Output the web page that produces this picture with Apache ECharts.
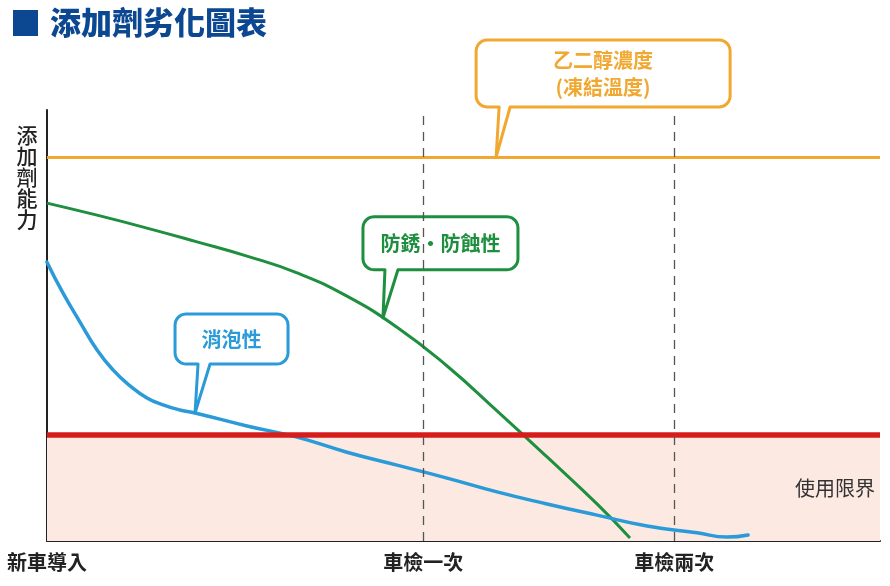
<!DOCTYPE html>
<html>
<head>
<meta charset="utf-8">
<script src="https://cdn.jsdelivr.net/npm/echarts@6/dist/echarts.min.js"></script>
<style>
	html, body { margin: 0; padding: 0; background: #fff; }
	#chart { width: 890px; height: 586px; }
</style>
</head>
<body>
<div id="chart"></div>
<script>
	/* 添加劑劣化 數據 (x: 年, y: 能力 %) */
	var xMax = 6.64;
	var yMax = 100;
	var xTickValues = [0, 3, 5];
	var xTickLabels = ['新車導入', '車檢一次', '車檢兩次'];
	var inspectionYears = [3, 5];
	var glycolLevel = 89.1;
	var usageLimit = 24.6;

	var rustData = [
		[0, 78.4], [0.399, 75.6], [0.797, 72.6], [1.196, 69.4], [1.594, 66.1],
		[1.993, 62.2], [2.391, 56.8], [2.790, 49.6], [3.189, 40.6], [3.587, 30.2],
		[3.986, 19.5], [4.384, 8.6], [4.647, 0.7]
	];
	var foamData = [
		[0, 64.7], [0.128, 57.5], [0.263, 50.8], [0.399, 44.3], [0.526, 39.7],
		[0.662, 36.0], [0.797, 33.2], [0.925, 31.6], [1.060, 30.4], [1.196, 29.6],
		[1.594, 26.7], [1.993, 24.1], [2.391, 20.6], [2.790, 17.6], [3.189, 14.6],
		[3.587, 11.4], [3.986, 8.6], [4.384, 6.0], [4.783, 3.5], [5.181, 1.9],
		[5.420, 0.9], [5.588, 1.4]
	];

	// 吹き出しの指す点
	var glycolCalloutAt = [3.58, glycolLevel];
	var rustCalloutAt = [2.678, 51.8];
	var foamCalloutAt = [1.18, 29.7];

	var font = '"Noto Sans CJK TC", "Noto Sans CJK SC", sans-serif';
	var orange = '#f0a830';
	var green = '#1e8f3e';
	var blue = '#2a9ad8';
	var red = '#d71c1c';

	var option = {
		backgroundColor: '#fff',
		animation: false,
		title: {
			text: '添加劑劣化圖表',
			left: 45,
			top: 2,
			textStyle: { fontFamily: font, fontSize: 31, fontWeight: 900, color: '#0c4792' }
		},
		grid: { left: 47, right: 10, top: 110, bottom: 45 },
		xAxis: {
			type: 'value',
			min: 0,
			max: xMax,
			axisLine: { show: true, onZero: false, lineStyle: { color: '#222', width: 2 } },
			axisTick: { show: false },
			splitLine: { show: false },
			axisLabel: {
				customValues: xTickValues,
				margin: 11,
				fontFamily: font,
				fontSize: 20,
				fontWeight: 'bold',
				color: '#222',
				formatter: function(v) {
					var i = xTickValues.indexOf(v);
					return i >= 0 ? xTickLabels[i] : '';
				}
			}
		},
		yAxis: {
			type: 'value',
			min: 0,
			max: yMax,
			axisLine: { show: true, lineStyle: { color: '#222', width: 2 } },
			axisTick: { show: false },
			axisLabel: { show: false },
			splitLine: { show: false }
		},
		series: [{
			name: '乙二醇濃度',
			type: 'line',
			z: 1,
			data: [],
			markArea: {
				silent: true,
				itemStyle: { color: '#fce9e2' },
				label: {
					show: true,
					position: 'insideRight',
					distance: 5,
					fontFamily: font,
					fontSize: 20,
					color: '#333'
				},
				data: [[{ name: '使用限界', yAxis: 0 }, { yAxis: usageLimit }]]
			},
			markLine: {
				silent: true,
				symbol: 'none',
				label: { show: false },
				data: [
					{ yAxis: glycolLevel, lineStyle: { color: orange, width: 3, type: 'solid' } },
					{ yAxis: usageLimit, lineStyle: { color: red, width: 5.5, type: 'solid' } }
				].concat(inspectionYears.map(function(x) {
					return { xAxis: x, lineStyle: { color: '#555', width: 1.3, type: [9, 7] } };
				}))
			}
		}, {
			name: '防銹・防蝕性',
			type: 'line',
			z: 3,
			smooth: 0.5,
			symbol: 'none',
			lineStyle: { color: green, width: 3 },
			data: rustData
		}, {
			name: '消泡性',
			type: 'line',
			z: 4,
			smooth: 0.5,
			symbol: 'none',
			lineStyle: { color: blue, width: 3.5, cap: 'round' },
			data: foamData
		}]
	};

	var chart = echarts.init(document.getElementById('chart'));
	chart.setOption(option);

	// 角の丸め用の点
	function corner(pts, cx, cy, r, a0) {
		for (var k = 0; k <= 6; k++) {
			var a = (a0 + k * 15) * Math.PI / 180;
			pts.push([cx + r * Math.cos(a), cy + r * Math.sin(a)]);
		}
	}

	// 吹き出し: box/tail は tip からのずれ
	function callout(tip, box, tail, color, text, lineHeight) {
		var x0 = tip[0] + box[0], x1 = tip[0] + box[1];
		var y0 = tip[1] + box[2], y1 = tip[1] + box[3];
		var r = 11;
		var pts = [];
		corner(pts, x0 + r, y0 + r, r, 180);
		corner(pts, x1 - r, y0 + r, r, 270);
		corner(pts, x1 - r, y1 - r, r, 0);
		pts.push([tip[0] + tail[1], y1], [tip[0], tip[1]], [tip[0] + tail[0], y1]);
		corner(pts, x0 + r, y1 - r, r, 90);
		return {
			type: 'group',
			z: 100,
			children: [{
				type: 'polygon',
				shape: { points: pts },
				style: { fill: '#fff', stroke: color, lineWidth: 3, lineJoin: 'round' }
			}, {
				type: 'text',
				x: (x0 + x1) / 2,
				y: (y0 + y1) / 2,
				style: {
					text: text,
					fill: color,
					font: 'bold 20px ' + font,
					align: 'center',
					verticalAlign: 'middle',
					lineHeight: lineHeight
				}
			}]
		};
	}

	var px = function(pt) { return chart.convertToPixel({ gridIndex: 0 }, pt); };

	chart.setOption({
		graphic: [
			{ type: 'rect', shape: { x: 13, y: 10, width: 25, height: 26 }, style: { fill: '#0c4792' } },
			{
				type: 'text',
				x: 27,
				y: 125,
				style: {
					text: '添\n加\n劑\n能\n力',
					fill: '#222',
					font: '500 21px ' + font,
					align: 'center',
					verticalAlign: 'top',
					lineHeight: 21
				}
			},
			callout(px(glycolCalloutAt), [-20, 234, -117, -50], [3, 14], orange, '乙二醇濃度\n(凍結溫度)', 27),
			callout(px(rustCalloutAt), [-20, 135, -101, -48], [2, 15], green, '防銹・防蝕性', 22),
			callout(px(foamCalloutAt), [-20, 93, -99, -49], [3, 15], blue, '消泡性', 22)
		]
	});
</script>
</body>
</html>
